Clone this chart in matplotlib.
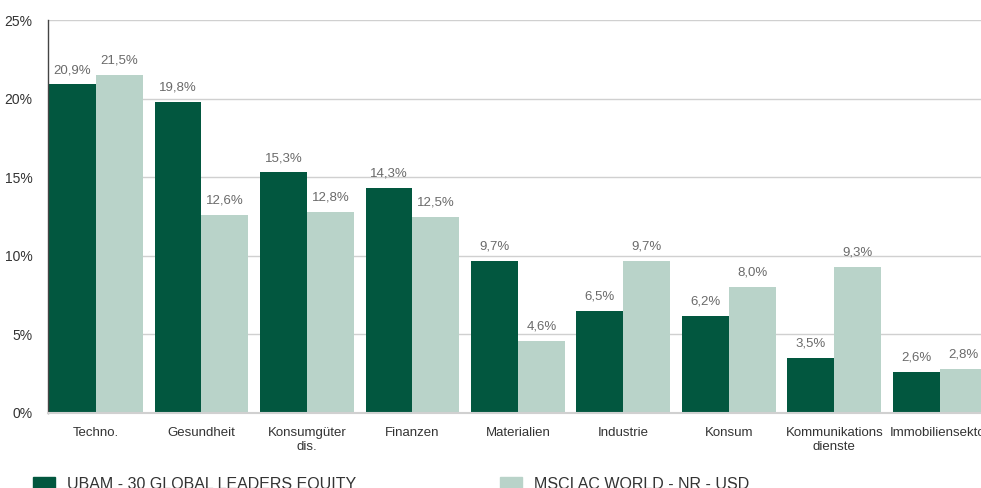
import numpy as np
import matplotlib.pyplot as plt
from matplotlib.patches import Patch

# Sektorgewichtung
sektoren = ["Techno.", "Gesundheit", "Konsumgüter\ndis.", "Finanzen", "Materialien",
            "Industrie", "Konsum", "Kommunikations\ndienste", "Immobiliensektor"]
ubam = [20.9, 19.8, 15.3, 14.3, 9.7, 6.5, 6.2, 3.5, 2.6]
msci = [21.5, 12.6, 12.8, 12.5, 4.6, 9.7, 8.0, 9.3, 2.8]
serien = ["UBAM - 30 GLOBAL LEADERS EQUITY", "MSCI AC WORLD - NR - USD"]

dunkel = "#02573f"
hell = "#b9d3c9"
grau = "#6a6a6a"

plt.rcParams['font.family'] = ['Liberation Sans', 'DejaVu Sans']

fig = plt.figure(figsize=(9.81, 4.88), dpi=100)
ax = fig.add_axes([48/981, 75/488, 1 - 48/981, 393/488])

x = np.arange(len(sektoren))
w = 0.445
b1 = ax.bar(x - w/2, ubam, w, color=dunkel, zorder=2)
b2 = ax.bar(x + w/2, msci, w, color=hell, zorder=2)

def fmt(v):
    return f"{v:.1f}%".replace(".", ",")

for bars, vals in [(b1, ubam), (b2, msci)]:
    for r, v in zip(bars, vals):
        ax.annotate(fmt(v), (r.get_x() + r.get_width()/2, v), xytext=(0, 6),
                    textcoords="offset points", ha="center", va="bottom",
                    fontsize=9.5, color=grau)

ax.set_xlim(-0.455, 8.39)
ax.set_ylim(0, 25)
ax.set_yticks([0, 5, 10, 15, 20, 25])
ax.set_yticklabels([f"{t}%" for t in [0, 5, 10, 15, 20, 25]])
ax.set_xticks(x)
ax.set_xticklabels(sektoren)
ax.tick_params(axis="y", length=0, pad=11, labelsize=10, labelcolor="#333333")
ax.tick_params(axis="x", length=0, pad=10, labelsize=9.5, labelcolor="#333333")
ax.grid(axis="y", color="#d0d0d0", linewidth=1, zorder=0)
ax.set_axisbelow(True)
for s in ["top", "right"]:
    ax.spines[s].set_visible(False)
ax.spines["left"].set_color("#444444")
ax.spines["left"].set_linewidth(1)
ax.spines["bottom"].set_color("#d0d0d0")
ax.spines["bottom"].set_linewidth(1.5)

# Legende: zwei Einträge, jeweils frei positioniert
for farbe, name, xpos in [(dunkel, serien[0], 33), (hell, serien[1], 500)]:
    fig.legend([Patch(color=farbe)], [name], loc="upper left",
               bbox_to_anchor=(xpos/981, 1 - 477/488), borderaxespad=0,
               borderpad=0, frameon=False, fontsize=11.5, handlelength=1.35,
               handleheight=0.9, handletextpad=0.8, labelcolor="#333333")

fig.savefig("out.png", dpi=100)
